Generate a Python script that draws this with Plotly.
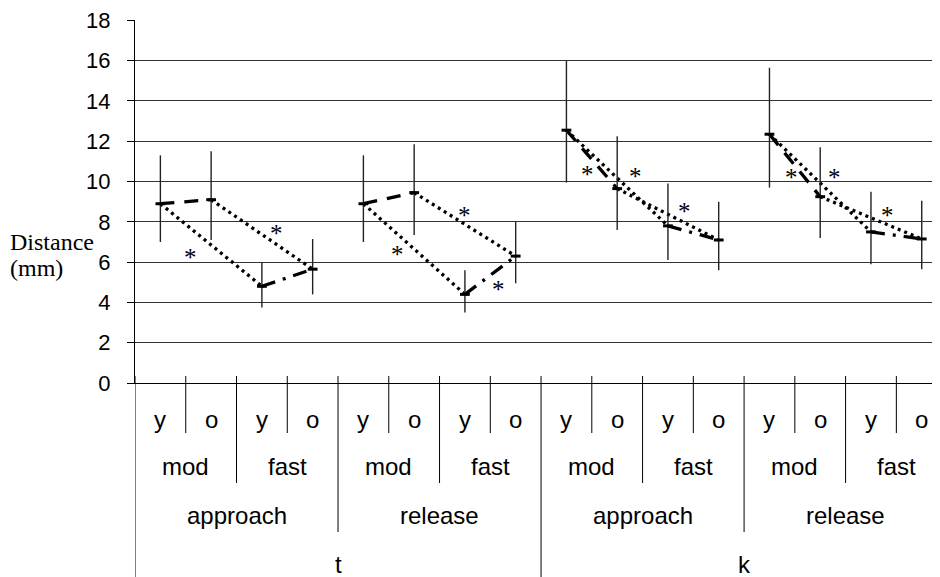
import itertools
import plotly.graph_objects as go

# ---- data -------------------------------------------------------------
speakers = ["y", "o"]
rates = ["mod", "fast"]
phases = ["approach", "release"]
places = ["t", "k"]

# mean distance (mm) for each of the 16 conditions, in axis order
means = [8.9, 9.1, 4.8, 5.65, 8.9, 9.45, 4.4, 6.3,
         12.55, 9.65, 7.8, 7.1, 12.35, 9.25, 7.5, 7.15]
# error bar extents above / below the mean
err_up = [2.4, 2.4, 1.2, 1.5, 2.4, 2.4, 1.2, 1.7,
          3.45, 2.6, 2.1, 1.9, 3.3, 2.45, 2.0, 1.9]
err_down = [1.9, 2.0, 1.05, 1.25, 1.9, 2.1, 0.9, 1.35,
            2.6, 2.05, 1.7, 1.5, 2.65, 2.05, 1.6, 1.5]

# significance asterisks (category position, value)
ast_pos = [0.59, 2.28, 4.67, 6.0, 6.66, 8.42, 9.36, 10.32, 12.44, 13.28, 14.33]
ast_val = [6.5, 7.67, 6.63, 8.58, 4.89, 10.6, 10.48, 8.74, 10.43, 10.43, 8.58]

yticks = [0, 2, 4, 6, 8, 10, 12, 14, 16, 18]

# ---- derived ------------------------------------------------------------
categories = list(itertools.product(places, phases, rates, speakers))
n = len(categories)
xs = list(range(n))

BLACK = "#000000"
SANS = "Liberation Sans, Arial, sans-serif"
SERIF = "Liberation Serif, Times New Roman, serif"

fig = go.Figure()


def seg_trace(pairs, dash):
    x, y = [], []
    for a, b in pairs:
        x += [xs[a], xs[b], None]
        y += [means[a], means[b], None]
    return go.Scatter(x=x, y=y, mode="lines", hoverinfo="skip", showlegend=False,
                      line=dict(color=BLACK, width=3.3, dash=dash))


groups = range(0, n, 4)
# y vs o at moderate rate (dashed)
fig.add_trace(seg_trace([(b, b + 1) for b in groups], "14px,10px"))
# y vs o at fast rate (dash-dot)
fig.add_trace(seg_trace([(b + 2, b + 3) for b in groups], "14px,8px,3px,8px"))
# mod vs fast for each speaker group (dotted)
fig.add_trace(seg_trace([(b, b + 2) for b in groups] + [(b + 1, b + 3) for b in groups],
                        "3px,4px"))

# means with error bars
fig.add_trace(go.Scatter(
    x=xs, y=means, mode="markers", showlegend=False,
    marker=dict(symbol="line-ew", size=7, color=BLACK,
                line=dict(color=BLACK, width=3)),
    error_y=dict(type="data", symmetric=False, array=err_up, arrayminus=err_down,
                 width=0, thickness=1.4, color="#222222"),
))

annotations = []
shapes = []

# asterisks (annotations so the glyph can be centred on its value)
for px, pv in zip(ast_pos, ast_val):
    annotations.append(dict(x=px, y=pv, xref="x", yref="y", text="*", showarrow=False,
                            xanchor="center", yanchor="middle", yshift=-5,
                            font=dict(family=SERIF, size=25, color=BLACK)))


# ---- hierarchical category axis ------------------------------------------
def label(x, text, offset):
    annotations.append(dict(x=x, y=0, xref="x", yref="paper", text=text,
                            showarrow=False, yanchor="middle", xanchor="center",
                            yshift=-offset, font=dict(family=SANS, size=24, color=BLACK)))


def sep(x, length):
    shapes.append(dict(type="line", xref="x", yref="paper", ysizemode="pixel", yanchor=0,
                       x0=x, x1=x, y0=7, y1=-length, line=dict(color=BLACK, width=1)))


for i, c in enumerate(categories):
    label(xs[i], c[3], 36)
for j in range(0, n, 2):
    label(j + 0.5, categories[j][2], 83)
    sep(j + 0.5, 50)
for j in range(0, n, 4):
    label(j + 1.5, categories[j][1], 132)
    sep(j + 1.5, 100)
for j in range(0, n, 8):
    label(j + 3.5, categories[j][0], 181)
    sep(j + 3.5, 149)
sep(7.5, 200)
sep(-0.5, 200)

# y axis title
annotations.append(dict(x=0, y=7.0 / 18, xref="paper", yref="paper", text="Distance",
                        showarrow=False, xanchor="left", yanchor="middle", xshift=-127,
                        font=dict(family=SERIF, size=24, color=BLACK)))
annotations.append(dict(x=0, y=5.72 / 18, xref="paper", yref="paper", text="(mm)",
                        showarrow=False, xanchor="left", yanchor="middle", xshift=-127,
                        font=dict(family=SERIF, size=24, color=BLACK)))

# the page body has an 8px margin, so the figure is sized/offset to compensate
fig.update_layout(
    width=932, height=569,
    margin=dict(l=127, r=0, t=12, b=194),
    paper_bgcolor="white", plot_bgcolor="white",
    showlegend=False,
    annotations=annotations, shapes=shapes,
    xaxis=dict(range=[-0.5, 15.36], showgrid=False, zeroline=False, showticklabels=False,
               ticks="", showline=True, linecolor=BLACK, linewidth=1),
    yaxis=dict(range=[0, 18.02], tickvals=yticks, ticktext=[str(v) for v in yticks],
               showgrid=True, gridcolor="#333333", gridwidth=1.3, zeroline=False,
               ticks="outside", ticklen=7, tickcolor=BLACK, ticklabelstandoff=12,
               showline=True, linecolor=BLACK, linewidth=1, automargin=False,
               tickfont=dict(family=SANS, size=22, color=BLACK)),
)

fig.write_html("out.html")
